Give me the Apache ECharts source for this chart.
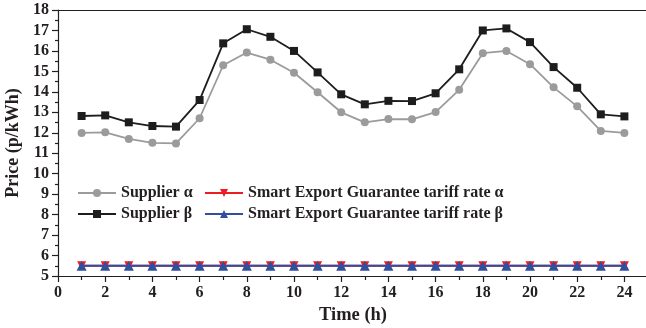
<!DOCTYPE html>
<html>
<head>
<meta charset="utf-8">
<script src="https://cdn.jsdelivr.net/npm/echarts@6/dist/echarts.min.js"></script>
<style>
  html, body { margin: 0; padding: 0; background: #fff; }
  #chart { width: 646px; height: 328px; }
</style>
</head>
<body>
<div id="chart"></div>
<script>
// Hourly retail prices for two suppliers and the export tariff (p/kWh)
const hours = [1, 2, 3, 4, 5, 6, 7, 8, 9, 10, 11, 12, 13, 14, 15, 16, 17, 18, 19, 20, 21, 22, 23, 24];
const supplierAlpha = [11.99, 12.02, 11.70, 11.51, 11.48, 12.71, 15.30, 15.92, 15.57, 14.93, 13.98, 13.00,
                       12.51, 12.67, 12.66, 13.01, 14.10, 15.89, 16.00, 15.35, 14.22, 13.29, 12.09, 11.99];
const supplierBeta = [12.82, 12.85, 12.51, 12.33, 12.30, 13.60, 16.37, 17.06, 16.69, 16.00, 14.95, 13.88,
                      13.39, 13.56, 13.55, 13.93, 15.10, 17.00, 17.10, 16.43, 15.21, 14.20, 12.90, 12.80];
const segAlpha = [5.5, 5.5, 5.5, 5.5, 5.5, 5.5, 5.5, 5.5, 5.5, 5.5, 5.5, 5.5,
                  5.5, 5.5, 5.5, 5.5, 5.5, 5.5, 5.5, 5.5, 5.5, 5.5, 5.5, 5.5];
const segBeta = [5.5, 5.5, 5.5, 5.5, 5.5, 5.5, 5.5, 5.5, 5.5, 5.5, 5.5, 5.5,
                 5.5, 5.5, 5.5, 5.5, 5.5, 5.5, 5.5, 5.5, 5.5, 5.5, 5.5, 5.5];
const seriesNames = ['Supplier α', 'Supplier β', 'Smart Export Guarantee tariff rate α', 'Smart Export Guarantee tariff rate β'];

const pairs = arr => hours.map((h, i) => [h, arr[i]]);
const FONT = 'Liberation Serif';
const INK = '#231f20';

const chart = echarts.init(document.getElementById('chart'), null, { renderer: 'canvas' });

const legendText = { fontFamily: FONT, fontWeight: 'bold', fontSize: 16, color: INK };

chart.setOption({
  animation: false,
  backgroundColor: '#fff',
  grid: { left: 58, top: 10, width: 590, bottom: 52, containLabel: false, outerBoundsMode: 'none' },
  legend: [
    {
      data: [seriesNames[0], seriesNames[1]],
      orient: 'vertical', left: 77, top: 185,
      itemWidth: 38, itemHeight: 10, itemGap: 5,
      textStyle: legendText, padding: 0
    },
    {
      data: [seriesNames[2], seriesNames[3]],
      orient: 'vertical', left: 204, top: 185,
      itemWidth: 38, itemHeight: 10, itemGap: 5,
      textStyle: legendText, padding: 0
    }
  ],
  xAxis: [
    {
      type: 'value', min: 0, max: 25, interval: 2,
      name: 'Time (h)', nameLocation: 'middle', nameGap: 26,
      nameTextStyle: { fontFamily: FONT, fontWeight: 'bold', fontSize: 18.5, color: INK },
      axisLine: { lineStyle: { color: INK, width: 1.2 } },
      axisTick: { show: true, length: 6, inside: false, lineStyle: { color: INK, width: 1.2 } },
      minorTick: { show: true, splitNumber: 2, length: 4, lineStyle: { color: INK, width: 1.2 } },
      axisLabel: {
        fontFamily: FONT, fontWeight: 'bold', fontSize: 16, color: INK, margin: 9,
        formatter: v => (v % 2 === 0 && v <= 24) ? String(v) : ''
      },
      splitLine: { show: false }
    },
    {
      type: 'value', min: 0, max: 25, position: 'top',
      axisLine: { show: true, lineStyle: { color: INK, width: 1.2 } },
      axisTick: { show: false }, axisLabel: { show: false }, splitLine: { show: false }
    }
  ],
  yAxis: {
    type: 'value', min: 5, max: 18, interval: 1,
    name: 'Price (p/kWh)', nameLocation: 'middle', nameGap: 34,
    nameTextStyle: { fontFamily: FONT, fontWeight: 'bold', fontSize: 18, color: INK },
    axisLine: { show: true, lineStyle: { color: INK, width: 1.2 } },
    axisTick: { show: true, length: 6, lineStyle: { color: INK, width: 1.2 } },
    minorTick: { show: true, splitNumber: 2, length: 3, lineStyle: { color: INK, width: 1.2 } },
    axisLabel: { fontFamily: FONT, fontWeight: 'bold', fontSize: 16, color: INK, margin: 9 },
    splitLine: { show: false }
  },
  series: [
    {
      name: seriesNames[0], type: 'line', data: pairs(supplierAlpha),
      symbol: 'circle', symbolSize: 8,
      lineStyle: { color: '#9b9b9d', width: 1.8 },
      itemStyle: { color: '#9b9b9d' }
    },
    {
      name: seriesNames[1], type: 'line', data: pairs(supplierBeta),
      symbol: 'rect', symbolSize: 8,
      lineStyle: { color: '#1e1c1d', width: 1.8 },
      itemStyle: { color: '#1e1c1d' }
    },
    {
      name: seriesNames[2], type: 'line', data: pairs(segAlpha),
      symbol: 'triangle', symbolRotate: 180, symbolSize: 9,
      lineStyle: { color: '#ed1c24', width: 2 },
      itemStyle: { color: '#ed1c24' }
    },
    {
      name: seriesNames[3], type: 'line', data: pairs(segBeta),
      symbol: 'triangle', symbolSize: 10,
      lineStyle: { color: '#2f4f9f', width: 2 },
      itemStyle: { color: '#2f4f9f' }
    }
  ]
});
</script>
</body>
</html>
